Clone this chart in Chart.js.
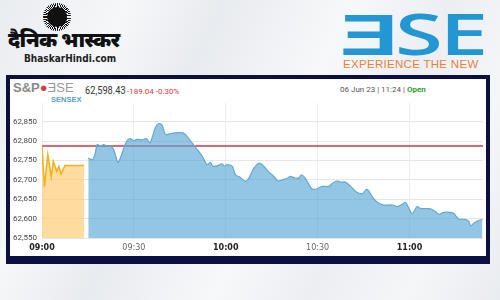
<!DOCTYPE html>
<html>
<head>
<meta charset="utf-8">
<script src="https://cdn.jsdelivr.net/npm/chart.js@4.4.0/dist/chart.umd.min.js"></script>
<style>
  html, body { margin: 0; padding: 0; }
  body {
    width: 500px; height: 300px; overflow: hidden; position: relative;
    font-family: "Open Sans", "Noto Sans", sans-serif;
    background: linear-gradient(115deg, #e9ecf0 0%, #f6f7f9 20%, #e8ebef 35%, #f7f8fa 55%, #eceef2 70%, #f5f6f8 85%, #e9ecf0 100%);
  }
  .abs { position: absolute; white-space: nowrap; }
  .sun {
    left: 43px; top: 3px; width: 28px; height: 28px; border-radius: 50%;
    background: repeating-conic-gradient(#111 0deg 4deg, transparent 4deg 8deg);
  }
  .sun::after {
    content: ""; position: absolute; left: 4px; top: 4px; width: 20px; height: 20px;
    border-radius: 50%; background: #111;
  }
  .frame {
    left: 6px; top: 75px; width: 476px; height: 177px;
    border: 4px solid #0c1040; border-bottom-width: 8px; background: #fff;
  }
</style>
</head>
<body>
<div class="abs sun"></div>
<div class="abs" style="left:8px;top:28px;font-size:21px;font-weight:900;color:#111;font-family:'Noto Sans Devanagari','Noto Sans',sans-serif;letter-spacing:-0.8px;">दैनिक भास्कर</div>
<div class="abs" style="left:24px;top:53px;font-size:10px;font-weight:bold;color:#222;font-family:'DejaVu Sans Condensed','Liberation Sans Narrow',sans-serif;">BhaskarHindi.com</div>
<div class="abs" style="left:340px;top:-7px;font-size:58px;font-weight:600;color:#2397d4;font-family:'Open Sans',sans-serif;transform:scaleX(1.5);transform-origin:left top;letter-spacing:-2px;">ƎSE</div>
<div class="abs" style="left:343px;top:58px;font-size:11.5px;color:#e5823d;font-family:'Liberation Sans',sans-serif;letter-spacing:0.3px;">EXPERIENCE THE NEW</div>

<div class="abs frame"></div>
<div class="abs" style="left:13px;top:80px;font-size:13px;font-weight:bold;color:#8a8a8a;font-family:'Liberation Sans',sans-serif;">S&amp;P<span style="color:#d04040;">●</span><span style="font-weight:normal;color:#999;">ƎSE</span></div>
<div class="abs" style="left:51px;top:95px;font-size:7.5px;font-weight:bold;color:#5b9ec8;font-family:'Liberation Sans',sans-serif;">SENSEX</div>
<div class="abs" style="left:85px;top:84px;font-size:11px;color:#333;font-family:Roboto,sans-serif;transform:scaleX(0.84);transform-origin:left top;">62,598.43</div>
<div class="abs" style="left:127px;top:87px;font-size:8px;color:#d23a3a;font-family:Roboto,sans-serif;">-189.04 -0.30%</div>
<div class="abs" style="left:340px;top:85px;font-size:8px;color:#555;font-family:Roboto,sans-serif;">06 Jun 23 | 11:24 | <b style="color:#2f9a2f;">Open</b></div>

<div class="abs" style="left:10px;top:79px;width:476px;height:177px;">
  <canvas id="chart"></canvas>
</div>

<script>
// minutes after 09:00
const preOpenTimes = [0, 0.8, 1.9, 3.0, 3.7, 4.8, 5.5, 6.2, 7.5, 13.8];
const preOpenValues = [62787, 62683, 62765, 62708, 62748, 62722, 62735, 62715, 62737, 62737];

const sessionTimes = [
  15.1, 16.5, 17.4, 18.0, 19.1, 20.1, 21.2, 22.3, 23.4, 24.8, 25.6, 26.7, 27.8, 28.9, 29.9,
  31.0, 32.7, 34.1, 35.2, 36.1, 37.0, 38.1, 39.2, 40.3, 41.9, 43.6, 45.8, 46.8, 48.5, 50.7,
  52.3, 53.9, 55.0, 55.8, 57.2, 58.8, 59.6, 60.5, 62.1, 63.2, 64.8, 66.4, 67.5, 69.2, 71.0,
  72.4, 74.1, 75.7, 77.1, 78.4, 80.1, 81.1, 82.8, 83.9, 84.7, 86.0, 87.1, 88.2, 89.9, 91.5,
  93.7, 95.0, 96.4, 97.5, 99.1, 100.8, 102.4, 104.6, 105.7, 106.4, 107.8, 109.5, 111.6, 114.4, 116.0,
  117.6, 118.7, 119.8, 120.9, 122.5, 123.6, 125.3, 126.9, 128.5, 129.6, 131.2, 133.4, 134.5, 136.1, 138.3,
  139.4, 140.0, 141.1, 142.6, 143.8
];
const sessionValues = [
  62756, 62752, 62769, 62791, 62787, 62791, 62787, 62787, 62778, 62745, 62756, 62782, 62801, 62806, 62801,
  62804, 62803, 62806, 62795, 62812, 62834, 62845, 62841, 62817, 62819, 62821, 62821, 62817, 62800, 62778,
  62761, 62739, 62745, 62735, 62736, 62741, 62735, 62739, 62735, 62713, 62706, 62696, 62704, 62730, 62743,
  62735, 62720, 62709, 62697, 62700, 62704, 62709, 62704, 62705, 62713, 62704, 62689, 62676, 62677, 62683,
  62683, 62692, 62697, 62694, 62694, 62683, 62670, 62664, 62674, 62674, 62657, 62642, 62635, 62635, 62631,
  62637, 62642, 62626, 62613, 62631, 62626, 62626, 62625, 62618, 62611, 62616, 62616, 62613, 62599, 62598,
  62592, 62581, 62589, 62595, 62598
];

const prevClose = 62787.47;

const xTicks = [0, 30, 60, 90, 120];
const xTickLabels = ["09:00", "09:30", "10:00", "10:30", "11:00"];
const yTicks = [62550, 62600, 62650, 62700, 62750, 62800, 62850];

const toPoints = (xs, ys) => xs.map((x, i) => ({ x: x, y: ys[i] }));

new Chart(document.getElementById("chart").getContext("2d"), {
  type: "line",
  data: {
    datasets: [
      {
        label: "Sensex",
        data: toPoints(sessionTimes, sessionValues),
        fill: "start",
        backgroundColor: "rgba(88,168,214,0.65)",
        borderColor: "#62a9d3",
        borderWidth: 1.2,
        pointRadius: 0,
        tension: 0.3,
      },
      {
        label: "Pre-open",
        data: toPoints(preOpenTimes, preOpenValues),
        fill: "start",
        backgroundColor: "rgba(253,205,120,0.72)",
        borderColor: "#f1b21c",
        borderWidth: 1.5,
        pointRadius: 0,
        tension: 0,
      },
      {
        label: "Previous close",
        data: [{ x: 0, y: prevClose }, { x: 144, y: prevClose }],
        fill: false,
        borderColor: "#cf3442",
        borderWidth: 1.5,
        pointRadius: 0,
      },
    ],
  },
  options: {
    responsive: true,
    maintainAspectRatio: false,
    animation: false,
    layout: { padding: { left: 0, right: 3, top: 24, bottom: 0 } },
    plugins: { legend: { display: false }, tooltip: { enabled: false } },
    scales: {
      x: {
        type: "linear",
        min: 0,
        max: 144,
        afterBuildTicks: (s) => { s.ticks = xTicks.map((v) => ({ value: v })); },
        afterFit: (s) => { s.height = 18; },
        border: { display: false },
        grid: { color: "#ececec", drawTicks: false },
        ticks: {
          padding: 5,
          maxRotation: 0,
          autoSkip: false,
          callback: (v, i) => xTickLabels[i],
          color: (c) => (xTickLabels[c.index] || "").endsWith(":00") ? "#222" : "#666",
          font: (c) => ({
            size: 8,
            family: "'DejaVu Sans', sans-serif",
            weight: (xTickLabels[c.index] || "").endsWith(":00") ? "bold" : "normal",
          }),
        },
      },
      y: {
        min: 62550,
        max: 62898,
        afterBuildTicks: (s) => { s.ticks = yTicks.map((v) => ({ value: v })); },
        afterFit: (s) => { s.width = 32; },
        border: { display: false },
        grid: { color: "#e6e6e6", drawTicks: false },
        ticks: {
          padding: 5,
          callback: (v) => v.toLocaleString("en-US"),
          color: "#444",
          font: { size: 8, family: "Roboto, sans-serif" },
        },
      },
    },
  },
});
</script>
</body>
</html>
